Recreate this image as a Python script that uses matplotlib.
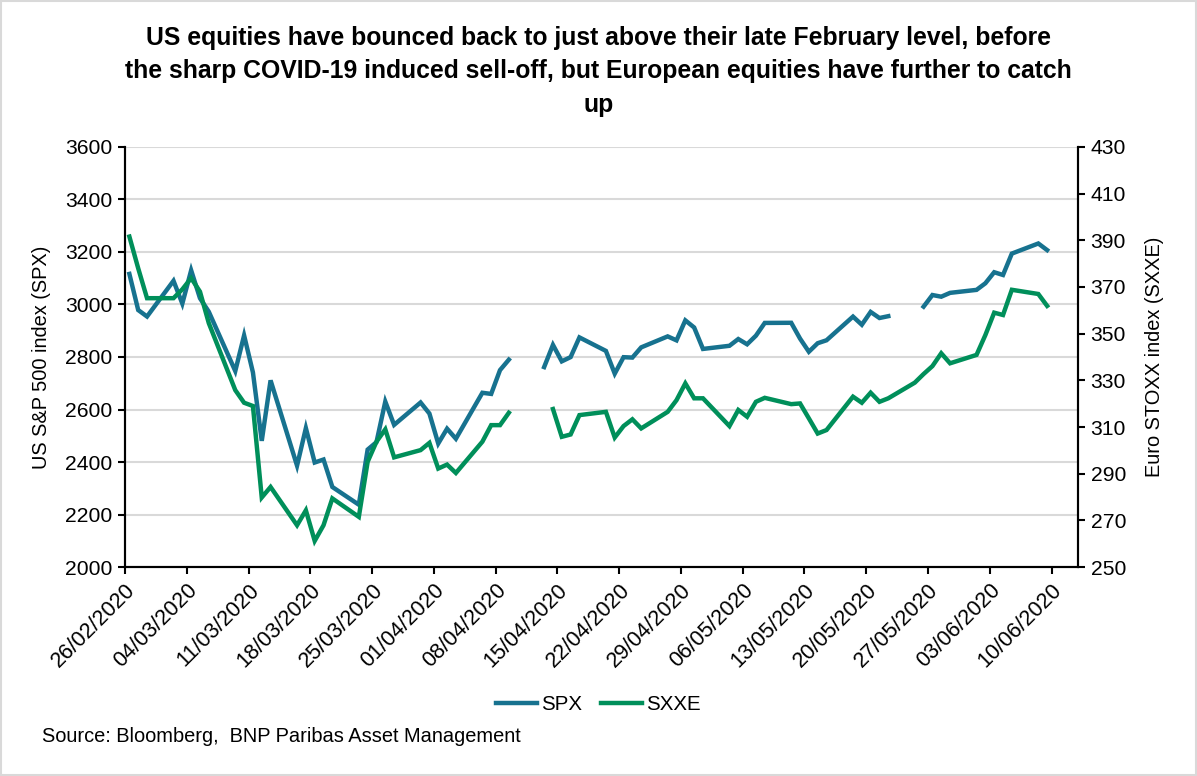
import numpy as np
import matplotlib
matplotlib.use("Agg")
import matplotlib.pyplot as plt
import matplotlib.dates as mdates
from matplotlib.lines import Line2D
from matplotlib.patches import Rectangle
from datetime import datetime, timedelta

plt.rcParams['font.family'] = ['Liberation Sans', 'DejaVu Sans']

nan = np.nan

# Daily closes (blank rows are market holidays -> gaps in the lines)
dates = [
    "26/02/2020", "27/02/2020", "28/02/2020", "02/03/2020", "03/03/2020",
    "04/03/2020", "05/03/2020", "06/03/2020", "09/03/2020", "10/03/2020",
    "11/03/2020", "12/03/2020", "13/03/2020", "16/03/2020", "17/03/2020",
    "18/03/2020", "19/03/2020", "20/03/2020", "23/03/2020", "24/03/2020",
    "25/03/2020", "26/03/2020", "27/03/2020", "30/03/2020", "31/03/2020",
    "01/04/2020", "02/04/2020", "03/04/2020", "06/04/2020", "07/04/2020",
    "08/04/2020", "09/04/2020", "10/04/2020", "13/04/2020", "14/04/2020",
    "15/04/2020", "16/04/2020", "17/04/2020", "20/04/2020", "21/04/2020",
    "22/04/2020", "23/04/2020", "24/04/2020", "27/04/2020", "28/04/2020",
    "29/04/2020", "30/04/2020", "01/05/2020", "04/05/2020", "05/05/2020",
    "06/05/2020", "07/05/2020", "08/05/2020", "11/05/2020", "12/05/2020",
    "13/05/2020", "14/05/2020", "15/05/2020", "18/05/2020", "19/05/2020",
    "20/05/2020", "21/05/2020", "22/05/2020", "25/05/2020", "26/05/2020",
    "27/05/2020", "28/05/2020", "29/05/2020", "01/06/2020", "02/06/2020",
    "03/06/2020", "04/06/2020", "05/06/2020", "08/06/2020", "09/06/2020",
]

spx = [
    3116.4, 2978.8, 2954.2, 3090.2, 3003.4,
    3130.1, 3023.9, 2972.4, 2746.6, 2882.2,
    2741.4, 2480.6, 2711.0, 2386.1, 2529.2,
    2398.1, 2409.4, 2304.9, 2237.4, 2447.3,
    2475.6, 2630.1, 2541.5, 2626.7, 2584.6,
    2470.5, 2526.9, 2488.7, 2663.7, 2659.4,
    2750.0, 2789.8, nan, 2761.6, 2846.1,
    2783.4, 2799.6, 2874.6, 2823.2, 2736.6,
    2799.3, 2797.8, 2836.7, 2878.5, 2863.4,
    2939.5, 2912.4, 2830.7, 2842.7, 2868.4,
    2848.4, 2881.2, 2929.8, 2930.3, 2870.1,
    2820.0, 2852.5, 2863.7, 2953.9, 2922.9,
    2971.6, 2948.5, 2955.5, nan, 2991.8,
    3036.1, 3029.7, 3044.3, 3055.7, 3080.8,
    3122.9, 3112.4, 3193.9, 3232.4, 3207.2,
]

sxxe = [
    391.6, 378.0, 365.2, 365.2, 369.0,
    373.8, 368.0, 354.5, 325.8, 320.4,
    319.0, 279.8, 284.3, 267.9, 274.3,
    261.2, 267.9, 279.4, 271.5, 295.1,
    303.7, 309.0, 297.0, 300.1, 303.2,
    292.2, 293.9, 290.3, 303.7, 310.8,
    310.8, 316.1, nan, nan, 317.7,
    305.8, 306.8, 315.1, 316.5, 305.5,
    310.4, 313.3, 309.4, 316.5, 321.5,
    328.7, 322.3, 322.3, 310.4, 317.3,
    314.4, 320.8, 322.5, 319.8, 320.1,
    313.7, 307.2, 308.7, 323.0, 320.4,
    324.7, 320.8, 322.3, 329.0, 332.7,
    336.1, 341.6, 337.3, 340.9, 349.4,
    359.0, 358.0, 368.8, 367.0, 361.9,
]

title = ("US equities have bounced back to just above their late February level, before\n"
         "the sharp COVID-19 induced sell-off, but European equities have further to catch\n"
         "up")
source = "Source: Bloomberg,  BNP Paribas Asset Management"

blue = '#17728F'
green = '#008F5A'

# Excel date axis: points sit in the middle of each day
x = [datetime.strptime(d, "%d/%m/%Y") + timedelta(hours=12) for d in dates]

fig = plt.figure(figsize=(11.97, 7.76), dpi=100)
ax = fig.add_axes([0.1044, 0.2693, 0.7962, 0.5413])
ax2 = ax.twinx()

ax.plot(x, spx, color=blue, lw=3.2, solid_joinstyle='miter', zorder=3)
ax2.plot(x, sxxe, color=green, lw=3.2, solid_joinstyle='miter', zorder=3)

ax.set_ylim(2000, 3600)
ax.set_yticks(np.arange(2000, 3601, 200))
ax2.set_ylim(250, 430)
ax2.set_yticks(np.arange(250, 431, 20))

start = datetime(2020, 2, 26)
ax.set_xlim(start, datetime(2020, 6, 13))
ax.set_xticks([start + timedelta(days=7 * i) for i in range(16)])
ax.xaxis.set_major_formatter(mdates.DateFormatter('%d/%m/%Y'))

ax.grid(axis='y', color='#D9D9D9', lw=1.5)
ax.set_axisbelow(True)

for a in (ax, ax2):
    a.spines['top'].set_visible(False)
    for s in ('left', 'right', 'bottom'):
        a.spines[s].set_linewidth(1.5)
        a.spines[s].set_color('black')
    a.tick_params(direction='out', length=5, width=1.5, labelsize=15.2, pad=4)

ax.tick_params(axis='x', labelsize=15.6)
for lab in ax.get_xticklabels():
    lab.set_rotation(45)
    lab.set_ha('right')
    lab.set_rotation_mode('anchor')

ax.set_ylabel('US S&P 500 index (SPX)', fontsize=14.4, labelpad=10)
ax2.set_ylabel('Euro STOXX index (SXXE)', fontsize=14.4, labelpad=14)

fig.text(0.5, 0.9085, title, ha='center', va='center', fontsize=17.8,
         fontweight='bold', linespacing=1.5)

handles = [Line2D([], [], color=blue, lw=3.2), Line2D([], [], color=green, lw=3.2)]
fig.legend(handles, ['SPX', 'SXXE'], loc='center', bbox_to_anchor=(0.5, 0.0915),
           ncol=2, frameon=False, fontsize=14.8, handlelength=2.0,
           handletextpad=0.2, columnspacing=0.9)

fig.text(0.035, 0.0503, source, ha='left', va='center', fontsize=14.4)

fig.patches.append(Rectangle((0.001, 0.0015), 0.998, 0.997, transform=fig.transFigure,
                             fill=False, edgecolor='#D9D9D9', lw=1.5))

fig.savefig('out.png', dpi=100)
